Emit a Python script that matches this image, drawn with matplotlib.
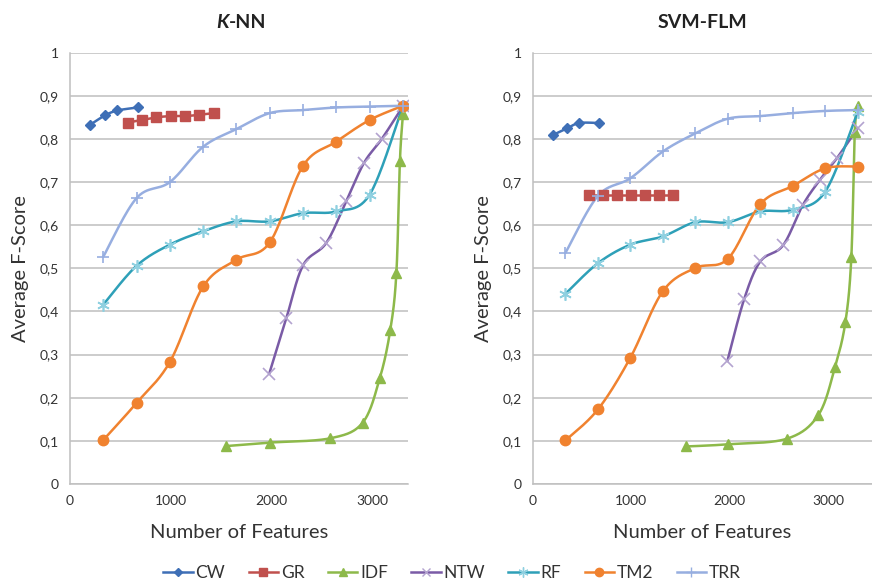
import numpy as np
import matplotlib
matplotlib.use("Agg")
import matplotlib.pyplot as plt
from matplotlib.lines import Line2D
from matplotlib.ticker import FuncFormatter

plt.rcParams['font.family'] = ['Lato', 'DejaVu Sans']

# ===============================
# DATA
# ===============================

cw_x = [200, 350, 470, 670]
gr_x = [570, 710, 850, 1000, 1140, 1280, 1425]
idf_x = [1550, 1980, 2580, 2900, 3070, 3175, 3235, 3270, 3300]
ntw_x = [1975, 2145, 2310, 2540, 2740, 2915, 3090, 3300]
grid_x = [330, 660, 990, 1320, 1650, 1980, 2310, 2640, 2970, 3300]   # RF, TM2, TRR

knn_cw = [0.833, 0.855, 0.866, 0.873]
knn_gr = [0.838, 0.844, 0.850, 0.853, 0.853, 0.856, 0.860]
knn_idf = [0.088, 0.096, 0.106, 0.142, 0.245, 0.358, 0.490, 0.750, 0.857]
knn_ntw = [0.256, 0.385, 0.507, 0.559, 0.657, 0.745, 0.800, 0.876]
knn_rf = [0.416, 0.506, 0.555, 0.586, 0.609, 0.609, 0.628, 0.632, 0.671, 0.877]
knn_tm2 = [0.102, 0.188, 0.283, 0.458, 0.520, 0.560, 0.738, 0.794, 0.844, 0.877]
knn_trr = [0.527, 0.663, 0.700, 0.782, 0.823, 0.860, 0.867, 0.873, 0.875, 0.877]

svm_cw = [0.809, 0.825, 0.837, 0.837]
svm_gr = [0.670, 0.670, 0.670, 0.670, 0.670, 0.670, 0.670]
svm_idf = [0.087, 0.092, 0.105, 0.160, 0.272, 0.376, 0.526, 0.815, 0.877]
svm_ntw = [0.285, 0.428, 0.516, 0.553, 0.646, 0.705, 0.756, 0.825]
svm_rf = [0.441, 0.512, 0.555, 0.574, 0.607, 0.607, 0.632, 0.636, 0.678, 0.863]
svm_tm2 = [0.101, 0.173, 0.293, 0.447, 0.501, 0.522, 0.649, 0.691, 0.732, 0.736]
svm_trr = [0.536, 0.668, 0.709, 0.771, 0.813, 0.847, 0.853, 0.860, 0.865, 0.867]

names = ["CW", "GR", "IDF", "NTW", "RF", "TM2", "TRR"]
colors = {"CW": "#3e6fb6", "GR": "#c0504d", "IDF": "#8db94a", "NTW": "#7a5ba6",
          "RF": "#2ea0b8", "TM2": "#f0822f", "TRR": "#97aee0"}
marker_colors = {"CW": "#3e6fb6", "GR": "#c0504d", "IDF": "#8db94a", "NTW": "#b3a3cf",
                 "RF": "#8fd0e0", "TM2": "#f0822f", "TRR": "#97aee0"}
markers = {"CW": "D", "GR": "s", "IDF": "^", "NTW": "x", "RF": (6, 2, 0), "TM2": "o", "TRR": "+"}
msizes = {"CW": 5.5, "GR": 7, "IDF": 6.5, "NTW": 8, "RF": 9, "TM2": 7.5, "TRR": 9}


def smooth(x, y, n=30):
    # Excel-style smoothed line: cubic Bezier, control points from neighbours / 6
    x = np.asarray(x, float)
    y = np.asarray(y, float)
    px = np.concatenate([[x[0]], x, [x[-1]]])
    py = np.concatenate([[y[0]], y, [y[-1]]])
    t = np.linspace(0, 1, n)[:, None]
    xs, ys = [], []
    for i in range(1, len(px) - 2):
        p0 = np.array([px[i], py[i]])
        p3 = np.array([px[i + 1], py[i + 1]])
        c1 = p0 + (np.array([px[i + 1], py[i + 1]]) - np.array([px[i - 1], py[i - 1]])) / 6
        c2 = p3 - (np.array([px[i + 2], py[i + 2]]) - np.array([px[i], py[i]])) / 6
        pts = ((1 - t) ** 3) * p0 + 3 * ((1 - t) ** 2) * t * c1 + 3 * (1 - t) * t ** 2 * c2 + t ** 3 * p3
        xs.append(pts[:, 0])
        ys.append(pts[:, 1])
    return np.concatenate(xs), np.concatenate(ys)


def draw_panel(ax, series, xmax):
    for name, (xv, yv) in series.items():
        sx, sy = smooth(xv, yv)
        ax.plot(sx, sy, color=colors[name], lw=1.8, zorder=3, solid_capstyle='round')
        thin = name in ("NTW", "RF", "TRR")
        ax.plot(xv, yv, ls='none', marker=markers[name], ms=msizes[name],
                color=marker_colors[name], mec=marker_colors[name],
                mew=1.2 if thin else 1.0, zorder=4)
    ax.set_xlim(0, xmax)
    ax.set_ylim(0, 1)
    ax.set_yticks(np.arange(0, 1.01, 0.1))
    ax.set_xticks([0, 1000, 2000, 3000])
    ax.yaxis.set_major_formatter(FuncFormatter(
        lambda v, p: "0" if abs(v) < 1e-9 else ("1" if abs(v - 1) < 1e-9 else f"{v:.1f}".replace(".", ","))))
    ax.grid(axis='y', color='#bfbfbf', lw=1.1, zorder=0)
    ax.set_axisbelow(True)
    for s in ("top", "right"):
        ax.spines[s].set_visible(False)
    for s in ("left", "bottom"):
        ax.spines[s].set_color('#bfbfbf')
        ax.spines[s].set_linewidth(1.1)
    ax.tick_params(length=0, labelsize=10, colors='#333333', pad=8)
    ax.set_xlabel("Number of Features", fontsize=14.5, color='#333333', labelpad=12)
    ax.set_ylabel("Average F-Score", fontsize=14.5, color='#333333', labelpad=8)


fig = plt.figure(figsize=(8.72, 5.87), dpi=100)

ax1 = fig.add_axes([70 / 872, 1 - 484 / 587, 338 / 872, 431.3 / 587])
ax2 = fig.add_axes([533 / 872, 1 - 484 / 587, 339 / 872, 431.3 / 587])

draw_panel(ax1, {"CW": (cw_x, knn_cw), "GR": (gr_x, knn_gr), "IDF": (idf_x, knn_idf),
                 "NTW": (ntw_x, knn_ntw), "RF": (grid_x, knn_rf), "TM2": (grid_x, knn_tm2),
                 "TRR": (grid_x, knn_trr)}, 3350)
draw_panel(ax2, {"CW": (cw_x, svm_cw), "GR": (gr_x, svm_gr), "IDF": (idf_x, svm_idf),
                 "NTW": (ntw_x, svm_ntw), "RF": (grid_x, svm_rf), "TM2": (grid_x, svm_tm2),
                 "TRR": (grid_x, svm_trr)}, 3445)

# titles
fig.text(229 / 872, 1 - 22 / 587, "K", fontsize=14, fontweight='bold', fontstyle='italic',
         ha='right', va='center', color='#222222')
fig.text(229 / 872, 1 - 22 / 587, "-NN", fontsize=14, fontweight='bold',
         ha='left', va='center', color='#222222')
fig.text(702 / 872, 1 - 22 / 587, "SVM-FLM", fontsize=14, fontweight='bold',
         ha='center', va='center', color='#222222')

# legend
handles = [Line2D([0], [0], color=colors[n], lw=1.8, marker=markers[n], ms=msizes[n] * 0.8,
                  mfc=marker_colors[n], mec=marker_colors[n]) for n in names]
fig.legend(handles, names, loc='center', bbox_to_anchor=(452 / 872, 1 - 573 / 587), ncol=7,
           frameon=False, fontsize=12.5, handlelength=1.7, handletextpad=0.15, columnspacing=1.35,
           labelcolor='#333333')

fig.savefig("out.png", dpi=100)
